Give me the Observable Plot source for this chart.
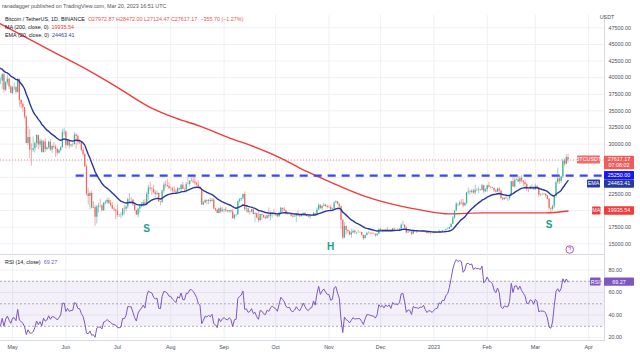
<!DOCTYPE html>
<html><head><meta charset="utf-8">
<script src="https://cdn.jsdelivr.net/npm/d3@7"></script>
<script src="https://cdn.jsdelivr.net/npm/@observablehq/plot@0.6"></script>
<style>
body{margin:0;background:#fff;font-family:"Liberation Sans",Arial,sans-serif;}
#wrap{position:relative;width:640px;height:360px;overflow:hidden;background:#fff;}
#price,#rsi{position:absolute;left:0;}
#price{top:0;} #rsi{top:254px;}
.t{position:absolute;white-space:nowrap;font-size:5.4px;line-height:6px;color:#131722;}
</style></head><body><div id="wrap"><div id="price"></div><div id="rsi"></div><div id="legend"></div></div>
<script>
// ---- daily BTC/USDT (Binance) closes / highs / lows, starting 2022-04-01 ----
const closeApr22=[46280,45810,46410,46580,45500,43170,43440,42250,42750,42160,39530,40080,41150,39940,40550,40380,39680,40800,41500,41360,40480,39710,39440,39450,40430,38110,39240,39740,38600,37630];
const highApr22=[46700,47210,47440,46890,47200,45510,43900,43970,42800,43420,42420,40700,41560,41500,40850,40710,40610,41140,41760,42200,42980,40800,39990,39940,40620,40800,39450,40380,39930,38790];
const lowApr22=[44210,45620,45520,45120,45350,43120,42730,42110,42120,41870,39200,39250,39540,39550,39770,39990,39550,38540,40570,40820,39750,39170,39290,38930,38200,37700,37860,38880,38170,37580];
const closeMay22=[38470,38530,37750,39690,36550,36010,35470,34060,30100,31010,29100,29050,29290,30100,31310,29860,30430,28720,30310,29200,29430,30290,29100,29650,29540,29200,28630,29030,29470,31720,31800];
const highMay22=[38670,39170,38650,39900,39850,36660,36130,35510,34240,32660,32190,30030,31080,30330,31410,31330,30790,30670,30540,30780,29600,30480,30670,29830,30220,29850,29400,29240,29600,32220,32400];
const lowMay22=[37390,38050,37510,37670,35570,35260,34780,33710,30030,29730,27790,26700,28750,28630,29480,29190,29430,28600,28670,28730,28950,29240,28900,28630,29300,28020,28200,28500,28800,29300,31200];
const closeJun22=[29800,30450,29700,29860,29910,31370,31130,30200,30110,29090,28420,26570,22490,22130,22580,20380,20470,19010,20550,20720,20710,19990,21100,21230,21500,21030,20730,20250,20100,19930];
const highJun22=[31980,30680,30690,29950,30170,31770,31560,31350,30700,30380,29460,28550,26900,23360,22790,22980,21350,20780,20800,21070,21720,20870,21210,21520,21870,21860,21520,21180,20430,20180];
const lowJun22=[29310,29590,29250,29480,29520,29880,29220,29840,29940,28850,28100,26560,22200,20850,20110,20230,20300,17620,17960,19640,20350,19770,19900,20870,20920,20960,20510,20180,19850,18630];
const closeJul22=[19300,19240,19300,20230,20190,20550,21630,21590,21590,20850,19960,19330,20230,20580,20830,21190,20790,22430,23390,23230,23160,22680,22450,22580,21310,21250,22950,23850,23780,23640,23300];
const highJul22=[20880,19440,19650,20350,20730,20680,21840,22530,21950,21600,20860,20050,20260,20880,21200,21560,21680,22780,23800,24280,23440,23760,22990,22980,22650,21370,23100,24200,24440,24670,24170];
const lowJul22=[18980,18970,18780,19050,19310,19760,20240,21180,21320,20650,19870,19220,18910,19620,20380,20480,20760,20760,21570,22900,22340,22510,21930,22250,21250,20710,21050,22580,23410,23500,23220];
const closeAug22=[23270,22990,22820,22620,23310,23180,23810,23160,23150,23950,23940,24400,24440,24300,24100,23850,23340,23190,20830,21140,21520,21400,21530,21370,21560,20250,20040,19550,20290,19800,20050];
const highAug22=[23510,23460,23650,23220,23450,23350,23940,24250,23410,24230,24920,24460,24890,25210,25050,24250,24450,23600,23200,21380,21690,21600,21680,21880,21820,21800,20360,20150,20420,20580,20490];
const lowAug22=[22850,22660,22680,22430,22590,22940,22880,23150,22700,22660,23870,23600,24300,24010,23760,23680,23190,23100,20780,20760,21090,20890,20900,21150,21320,20120,19820,19530,19530,19540,19800];
const closeSep22=[20130,19950,19830,19990,19790,18790,19290,19320,21360,21650,21830,22400,20170,20230,19700,19800,20110,19420,19540,18880,18480,19400,19290,18920,18800,19230,19080,19410,19590,19420];
const highSep22=[20200,20450,20000,20000,20060,20180,19460,19450,21450,21790,21860,22490,22800,20550,20340,19890,20190,20120,19690,19630,19960,19490,19500,19310,19180,19320,20380,19790,19650,20190];
const lowSep22=[19650,19750,19650,19600,19640,18670,18540,19010,19300,21110,21360,21550,19860,19620,19500,19320,19690,19360,18230,18750,18130,18380,18520,18810,18630,18680,18820,18470,18840,19160];
const closeOct22=[19310,19060,19630,20340,20160,19960,19530,19420,19450,19140,19050,19160,19380,19180,19070,19270,19550,19330,19120,19040,19170,19200,19570,19330,20090,20770,20290,20600,20810,20630,20490];
const highOct22=[19480,19400,19720,20480,20360,20450,20060,19610,19560,19530,19270,19220,19520,19950,19230,19430,19680,19710,19360,19350,19250,19260,19700,19600,20410,21020,20870,20750,21080,20930,20840];
const lowOct22=[19160,18920,19000,19500,19730,19860,19330,19320,19310,19020,18860,18990,18190,19080,18980,19030,19160,19110,19060,18900,18660,19130,19070,19150,19250,20060,20200,20000,20560,20500,20220];
const closeNov22=[20480,20150,20210,21150,21300,20920,20590,18540,15880,17590,17040,16800,16330,16620,16900,16660,16690,16700,16690,16280,15780,16230,16600,16600,16520,16460,16430,16220,16440,17170];
const highNov22=[20700,20800,20390,21300,21480,21370,21080,20660,18590,18150,17660,17070,16880,17190,17140,17000,16740,17000,16820,16750,16290,16300,16750,16810,16620,16700,16600,16480,16530,17250];
const lowNov22=[20330,20050,20040,20180,21080,20880,20400,17170,15590,15750,16360,16550,16230,15820,16530,16410,16400,16550,16560,16180,15480,15620,16150,16450,16350,16400,16400,16010,16110,16420];
const closeDec22=[16980,17090,16890,17110,16970,17090,16840,17230,17130,17130,17090,17210,17780,17810,17360,16630,16780,16740,16440,16900,16830,16820,16780,16840,16830,16920,16710,16550,16630,16600,16540];
const highDec22=[17320,17110,17160,17200,17430,17110,17140,17300,17360,17230,17270,17240,18000,18390,17850,17530,16800,16860,16820,17060,16910,16870,16960,16860,16860,16940,16970,16780,16660,16650,16630];
const lowDec22=[16860,16790,16860,16880,16880,16910,16680,16730,17060,17090,17070,16870,17090,17660,17280,16530,16590,16680,16260,16400,16750,16560,16740,16780,16730,16790,16590,16470,16490,16330,16470];
const closeJan23=[16610,16670,16680,16860,16830,16950,16940,17120,17180,17440,17940,18850,19930,20950,20870,21180,21130,20670,21070,22670,22780,22710,22920,22630,23060,23010,23080,23030,23740,22830,23130];
const highJan23=[16630,16760,16770,17090,16880,17020,16960,17180,17400,17490,18000,19110,19970,21260,20990,21470,21650,21650,21190,22750,23370,23080,23170,23180,23820,23290,23500,23190,23960,23820,23310];
const lowJan23=[16500,16550,16600,16660,16750,16680,16900,16910,17100,17150,17320,17910,18700,19890,20560,20600,20860,20400,20660,20880,22420,22290,22510,22460,22330,22850,22530,22880,23000,22520,22720];
const closeFeb23=[23730,23490,23430,23330,22930,22760,23250,22960,21800,21630,21860,21780,21780,22200,24330,23530,24570,24630,24280,24840,24440,24190,23940,23190,23160,23550,23490,23140];
const highFeb23=[23810,24250,23590,23480,23440,23160,23370,23450,22990,21940,21900,22090,21890,22330,24380,25250,24870,24870,25190,25120,25250,24480,24600,24130,23220,23690,23880,23600];
const lowFeb23=[22750,23380,23240,23250,22760,22630,22750,22670,21690,21450,21600,21630,21350,21530,22050,23500,23340,24450,24240,23870,24160,23580,23610,22860,22720,23080,23110,23020];
const closeMar23=[23630,23470,22350,22430,22410,22410,22200,21700,20360,20190,20630,22160,24200,24750,24380,25060,27420,26970,27972.87,27617.17];
const highMar23=[23970,23780,23480,22470,22610,22600,22540,22270,21800,20380,20790,22260,24500,26390,25250,25200,27760,27720,28390,28472.00];
const lowMar23=[23010,23180,21970,22150,22200,22270,21930,21580,20050,19550,19910,20260,21820,23970,23900,24120,24900,26600,26900,27124.47];

// MA(200)
const maDates=["2022-04-24","2022-05-23","2022-06-11","2022-07-01","2022-07-20","2022-08-04","2022-08-18","2022-09-06","2022-09-16","2022-10-04","2022-10-15","2022-10-25","2022-11-07","2022-11-23","2022-12-12","2022-12-24","2023-01-10","2023-01-29","2023-02-18","2023-03-07","2023-03-20"];
const maValues=[48100,44100,41540,38540,35540,33900,32700,30750,29850,27900,26400,25200,23700,22050,20700,20100,19500,19650,19650,19650,19935.54];

// axis ticks & labels (labels hidden behind the price tags are not printed)
const priceTicks=[15000,17500,20000,22500,25000,27500,30000,32500,35000,37500,40000,42500,45000,47500];
const priceLabelTicks=[15000,17500,22500,30000,32500,35000,37500,40000,42500,45000,47500];
const rsiTicks=[20,40,60,80];
const rsiLevels=[70,50,30];
const monthDates=["2022-05-01","2022-06-01","2022-07-01","2022-08-01","2022-09-01","2022-10-01","2022-11-01","2022-12-01","2023-01-01","2023-02-01","2023-03-01","2023-04-01"];
const monthLabels=["May","Jun","Jul","Aug","Sep","Oct","Nov","Dec","2023","Feb","Mar","Apr"];

// annotations
const levelPrice=25250, levelStart="2022-06-07";
const patternText=["S","H","S"];
const patternDates=["2022-07-18","2022-11-02","2023-03-09"];
const patternPrices=[17300,14490,17800];
const eventDate="2023-03-21";
const ohlc={o:"27972.87",h:"28472.00",l:"27124.47",c:"27617.17",chg:"−355.70 (−1.27%)"};
const maLast=19935.54, emaLast=24463.41, rsiLast=69.27, lastPrice=27617.17, countdown="07:08:02";

// ---- build ----
const FONT='"Liberation Sans",Arial,sans-serif';
const P=s=>new Date(s+"T00:00:00Z");
const dataStart=P("2022-04-01");
const xStart=P("2022-04-24"), xEnd=new Date(Date.UTC(2023,3,10,5));
const closes=[].concat(closeApr22,closeMay22,closeJun22,closeJul22,closeAug22,closeSep22,closeOct22,closeNov22,closeDec22,closeJan23,closeFeb23,closeMar23);
const highs=[].concat(highApr22,highMay22,highJun22,highJul22,highAug22,highSep22,highOct22,highNov22,highDec22,highJan23,highFeb23,highMar23);
const lows=[].concat(lowApr22,lowMay22,lowJun22,lowJul22,lowAug22,lowSep22,lowOct22,lowNov22,lowDec22,lowJan23,lowFeb23,lowMar23);
const UP="#26a69a", DN="#ef5350";
const candles=closes.map((c,i)=>{const o=i?closes[i-1]:c;return {date:d3.utcDay.offset(dataStart,i),open:o,close:c,high:highs[i],low:lows[i],col:c>=o?UP:DN};});
// EMA(20) of closes
const k=2/21; let e;
const emaSeries=closes.map((c,i)=>({date:candles[i].date,v:(e=i?c*k+e*(1-k):c)}));
// RSI(14) of closes (Wilder)
const rsiSeries=[]; let ag=0,al=0;
for(let i=1;i<closes.length;i++){const ch=closes[i]-closes[i-1],g=Math.max(ch,0),l=Math.max(-ch,0);
 if(i<=14){ag+=g/14;al+=l/14;if(i===14)rsiSeries.push({date:candles[i].date,v:100-100/(1+ag/al)});}
 else{ag=(ag*13+g)/14;al=(al*13+l)/14;rsiSeries.push({date:candles[i].date,v:100-100/(1+ag/al)});}}
const vis=d=>d.date>=d3.utcDay.offset(xStart,-1);
const maData=maDates.map((d,i)=>({date:P(d),v:maValues[i]}));
const months=monthDates.map(P);
const labelMap=new Map(months.map((d,i)=>[+d,monthLabels[i]]));
const GRID="#eef0f4", AX="#4a4e59", BORDER="#d6d9e0";

const pricePlot=Plot.plot({
  width:640,height:255,marginTop:15,marginBottom:1,marginLeft:0,marginRight:36,
  style:{fontFamily:FONT,fontSize:"5.4px",background:"transparent",overflow:"visible"},
  x:{type:"utc",domain:[xStart,xEnd],axis:null},
  y:{domain:[13390,49350],axis:null},
  color:{type:"identity"},
  marks:[
    Plot.gridX(months,{stroke:GRID,strokeOpacity:1}),
    Plot.gridY(priceTicks,{stroke:GRID,strokeOpacity:1}),
    Plot.axisY(priceLabelTicks,{anchor:"right",tickSize:0,tickPadding:4,tickFormat:d=>d.toFixed(2),fill:AX}),
    Plot.ruleY([lastPrice],{stroke:DN,strokeDasharray:"1,2",strokeWidth:0.8,strokeOpacity:0.8}),
    Plot.line(maData,{x:"date",y:"v",stroke:"#f23a3a",strokeWidth:1.4,curve:"monotone-x",clip:true}),
    Plot.ruleY([{y:levelPrice,x1:P(levelStart),x2:xEnd}],{y:"y",x1:"x1",x2:"x2",stroke:"#3b45f2",strokeWidth:2.2,strokeDasharray:"8,6"}),
    Plot.ruleX(candles.filter(vis),{x:"date",y1:"low",y2:"high",stroke:"col",strokeWidth:0.6,strokeOpacity:0.8,clip:true}),
    Plot.ruleX(candles.filter(vis),{x:"date",y1:"open",y2:"close",stroke:"col",strokeWidth:1.3,strokeOpacity:0.8,clip:true}),
    Plot.line(emaSeries.filter(vis),{x:"date",y:"v",stroke:"#26389a",strokeWidth:1.4,clip:true}),
    Plot.text(patternText,{x:(d,i)=>P(patternDates[i]),y:(d,i)=>patternPrices[i],text:d=>d,fill:"#1f9e8c",fontSize:10,fontWeight:"bold"}),
    Plot.dot([eventDate],{x:d=>P(d),frameAnchor:"bottom",dy:-5,r:3.8,stroke:"#ab47bc",fill:"#fff",strokeWidth:0.9}),
    Plot.text([eventDate],{x:d=>P(d),frameAnchor:"bottom",dy:-5,text:()=>"ϟ",fill:"#ab47bc",fontSize:5.5}),
    Plot.frame({anchor:"right",stroke:BORDER}),
    Plot.frame({anchor:"bottom",stroke:BORDER})
  ]
});
document.getElementById("price").appendChild(pricePlot);

const rsiPlot=Plot.plot({
  width:640,height:106,marginTop:0,marginBottom:20,marginLeft:0,marginRight:36,
  style:{fontFamily:FONT,fontSize:"5.4px",background:"transparent",overflow:"visible"},
  x:{type:"utc",domain:[xStart,xEnd],axis:null},
  y:{domain:[17.4,93.8],axis:null},
  marks:[
    Plot.gridX(months,{stroke:GRID,strokeOpacity:1}),
    Plot.gridY(rsiTicks,{stroke:GRID,strokeOpacity:1}),
    Plot.rect([{y1:30,y2:70,x1:xStart,x2:xEnd}],{x1:"x1",x2:"x2",y1:"y1",y2:"y2",fill:"#7e57c2",fillOpacity:0.09}),
    Plot.ruleY(rsiLevels,{stroke:"#9598a1",strokeDasharray:"2,2",strokeWidth:0.8}),
    Plot.line(rsiSeries.filter(vis),{x:"date",y:"v",stroke:"#7e57c2",strokeWidth:1,clip:true}),
    Plot.axisY(rsiTicks,{anchor:"right",tickSize:0,tickPadding:4,tickFormat:d=>d.toFixed(2),fill:AX}),
    Plot.axisX(months,{anchor:"bottom",tickSize:0,tickPadding:5,tickFormat:d=>labelMap.get(+d),fill:AX}),
    Plot.frame({anchor:"right",stroke:BORDER}),
    Plot.frame({anchor:"bottom",stroke:BORDER})
  ]
});
document.getElementById("rsi").appendChild(rsiPlot);

// right-axis price tags, positioned through the plots' own y scales
function tag(svg,x,yc,w,h,fill,lines){
  const g=d3.select(svg).append("g");
  g.append("rect").attr("x",x).attr("y",yc-h/2).attr("width",w).attr("height",h).attr("rx",0.8).attr("fill",fill);
  lines.forEach((t,i)=>g.append("text").attr("x",x+w/2).attr("y",yc+(i-(lines.length-1)/2)*6.2).attr("dy","0.35em")
    .attr("text-anchor","middle").attr("fill","#fff").style("font-size","5.4px").style("font-family",FONT).text(t));
}
const yP=pricePlot.scale("y").apply.bind(pricePlot.scale("y"));
const yR=rsiPlot.scale("y").apply.bind(rsiPlot.scale("y"));
const TAGH=8.4;
const yl=yP(lastPrice), yLvl=yP(levelPrice);
const yEma=Math.max(yP(emaLast),yLvl+TAGH), yMa=yP(maLast);
tag(pricePlot,604,yl+3,30,13.5,"#f05c5c",[lastPrice.toFixed(2),countdown]);
tag(pricePlot,577,yl,23,8,"#f26b6b",["BTCUSDT"]);
tag(pricePlot,604,yLvl,30,TAGH,"#1717f0",[levelPrice.toFixed(2)]);
tag(pricePlot,587,yEma,13,8,"#263a9e",["EMA"]);
tag(pricePlot,604,yEma,30,TAGH,"#263a9e",[emaLast.toFixed(2)]);
tag(pricePlot,592,yMa,8.5,8,"#f03c3c",["MA"]);
tag(pricePlot,604,yMa,30,TAGH,"#f03c3c",[maLast.toFixed(2)]);
tag(rsiPlot,590,yR(rsiLast),10.5,8,"#7e57c2",["RSI"]);
tag(rsiPlot,604,yR(rsiLast),30,TAGH,"#7e57c2",[rsiLast.toFixed(2)]);
d3.select(pricePlot).append("text").attr("x",607).attr("y",17).attr("dy","0.35em").attr("fill",AX)
  .style("font-size","5.4px").text("USDT");

// legends
const L=document.getElementById("legend");
function line(top,left,parts){const d=document.createElement("div");d.className="t";d.style.top=top+"px";d.style.left=left+"px";
  d.innerHTML=parts.map(([t,c])=>`<span style="color:${c}">${t}</span>`).join("");L.appendChild(d);}
const R="#ef5350";
line(3,2,[["ranadagger published on TradingView.com, Mar 20, 2023 16:51 UTC","#50535e"]]);
line(16,5,[["Bitcoin / TetherUS, 1D, BINANCE&nbsp;&nbsp;","#131722"],["O"+ohlc.o+"&nbsp;H"+ohlc.h+"&nbsp;L"+ohlc.l+"&nbsp;C"+ohlc.c+"&nbsp;&nbsp;"+ohlc.chg,R]]);
line(24,5,[["MA (200, close, 0)&nbsp;&nbsp;","#131722"],[maLast.toFixed(2),"#f23a3a"]]);
line(32,5,[["EMA (20, close, 0)&nbsp;&nbsp;","#131722"],[emaLast.toFixed(2),"#2f43c0"]]);
line(259,5,[["RSI (14, close)&nbsp;&nbsp;","#131722"],[rsiLast.toFixed(2),"#7e57c2"]]);
</script></body></html>
